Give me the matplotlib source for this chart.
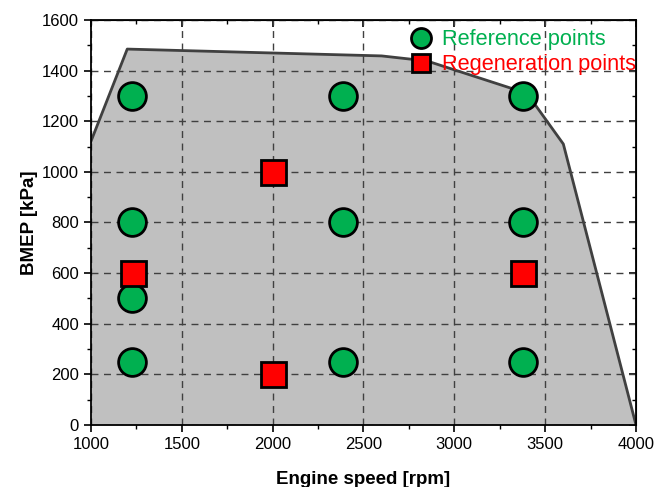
import matplotlib
matplotlib.use("Agg")
import matplotlib.pyplot as plt
from matplotlib.ticker import MultipleLocator

plt.rcParams['font.family'] = ['Liberation Sans', 'DejaVu Sans']

# Full-load boundary
boundary_rpm = [1000, 1200, 2600, 2850, 3400, 3600, 4000]
boundary_kpa = [1120, 1485, 1458, 1438, 1310, 1110, 0]

# Reference points
ref_rpm = [1225, 1225, 1225, 1225, 2390, 2390, 2390, 3380, 3380, 3380]
ref_kpa = [1300, 800, 500, 250, 1300, 800, 250, 1300, 800, 250]

# Regeneration points
reg_rpm = [1230, 2000, 2000, 3380]
reg_kpa = [600, 1000, 200, 600]

fig = plt.figure(figsize=(6.54, 4.87), dpi=100)
ax = fig.add_axes([0.139, 0.1273, 0.8335, 0.8317])

ax.fill_between(boundary_rpm + [4000], boundary_kpa + [0], 0, color='#C0C0C0', zorder=1, lw=0)
ax.plot(boundary_rpm, boundary_kpa, color='#404040', lw=2.0, zorder=3)

ax.set_xlim(1000, 4000)
ax.set_ylim(0, 1600)
ax.xaxis.set_major_locator(MultipleLocator(500))
ax.xaxis.set_minor_locator(MultipleLocator(250))
ax.yaxis.set_major_locator(MultipleLocator(200))
ax.yaxis.set_minor_locator(MultipleLocator(100))
ax.grid(True, which='major', linestyle=(0, (5, 4)), color='#404040', lw=1.0, zorder=2)
ax.set_axisbelow(False)

ax.tick_params(which='both', direction='out', labelsize=12, colors='black')
ax.tick_params(which='major', length=5, width=1.2)
ax.tick_params(which='minor', length=3, width=1.0)
for s in ax.spines.values():
    s.set_linewidth(1.3)
    s.set_zorder(6)

secx = ax.secondary_xaxis('top')
secx.xaxis.set_major_locator(MultipleLocator(500))
secx.xaxis.set_minor_locator(MultipleLocator(250))
secx.tick_params(which='both', direction='in', labeltop=False)
secx.tick_params(which='major', length=5, width=1.2)
secx.tick_params(which='minor', length=3, width=1.0)
secy = ax.secondary_yaxis('right')
secy.yaxis.set_major_locator(MultipleLocator(200))
secy.yaxis.set_minor_locator(MultipleLocator(100))
secy.tick_params(which='both', direction='in', labelright=False)
secy.tick_params(which='major', length=5, width=1.2)
secy.tick_params(which='minor', length=3, width=1.0)

ax.plot(ref_rpm, ref_kpa, 'o', ms=20, mfc='#00B050', mec='black', mew=2.0,
        zorder=5, label='Reference points', clip_on=False)
ax.plot(reg_rpm, reg_kpa, 's', ms=18, mfc='#FF0000', mec='black', mew=2.0,
        zorder=5, label='Regeneration points', clip_on=False)

leg = ax.legend(loc='upper right', frameon=False, fontsize=15.7, handletextpad=0.45,
                borderaxespad=0.0, labelspacing=0.18, handlelength=1.0,
                markerscale=0.72, bbox_to_anchor=(1.016, 0.998))
for t, c in zip(leg.get_texts(), ['#00B050', '#FF0000']):
    t.set_color(c)

ax.set_xlabel('Engine speed [rpm]', fontsize=13.5, fontweight='bold', labelpad=14)
ax.set_ylabel('BMEP [kPa]', fontsize=13.5, fontweight='bold', labelpad=3)

fig.savefig('out.png', dpi=100)
